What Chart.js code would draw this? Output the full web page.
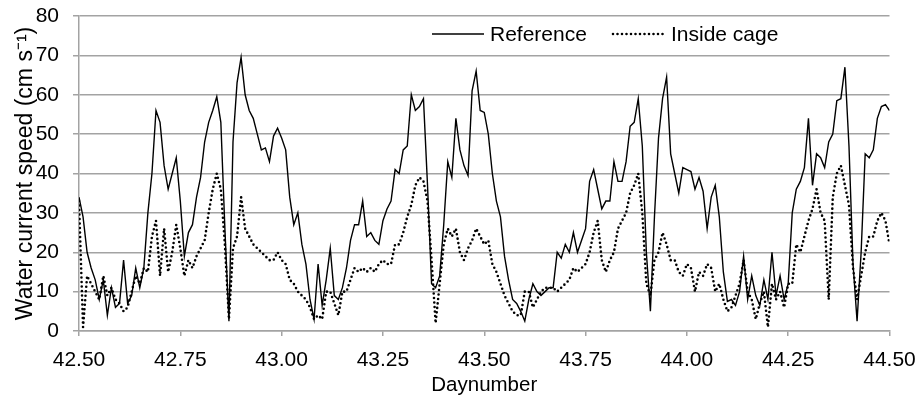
<!DOCTYPE html>
<html>
<head>
<meta charset="utf-8">
<script src="https://cdn.jsdelivr.net/npm/chart.js@4.4.1/dist/chart.umd.min.js"></script>
<style>
  html, body { margin: 0; padding: 0; background: #fff; }
</style>
</head>
<body>
<canvas id="chart" width="920" height="402"></canvas>
<script>
// water current speed (cm/s), one sample every 0.01 day
const firstDay = 42.5;
const dayStep = 0.01;

const refSpeed = [
  34, 29, 20, 16, 13, 8, 13, 4, 11, 6,
  7, 18, 7, 9, 16, 11, 16, 30, 40, 56,
  53, 42, 36, 40, 44, 33, 19, 25, 27, 34,
  39, 48, 53, 56, 59.5, 53, 26, 2.5, 48, 63,
  69.5, 60, 56, 54, 50, 46, 46.5, 43, 49.5, 51.5,
  49, 46, 34, 27, 30, 22, 17, 8, 3, 17,
  6.5, 13, 21, 9, 8, 11, 16, 23, 27, 27,
  33, 24, 25, 23, 22, 28, 31, 33, 41, 40,
  46, 47, 60, 56, 57, 59, 37, 12, 11, 14,
  27, 43, 39, 54, 46, 42, 39.5, 61, 66, 56,
  55.5, 50, 40, 33, 29, 19, 13, 8, 7, 5,
  2.5, 8, 12, 10, 9, 10, 11, 11, 20, 18.5,
  22, 20, 25, 20, 23, 26, 38, 41, 36, 31,
  33, 33, 43, 38, 38, 43, 52, 53, 59, 47,
  20, 5, 29, 49, 59, 64.5, 45, 40, 35, 41.5,
  41, 40.5, 36, 39, 35.5, 26, 34, 37, 29, 15,
  7.5, 8, 6.5, 10, 19, 8, 14, 9, 6.5, 13,
  8, 20, 9, 14, 8, 12, 30, 36, 38, 41.5,
  54, 37, 45, 44, 41.5, 48, 50, 58.5, 59, 67,
  47, 17, 2.5, 20, 45, 44, 46, 54, 57, 57.5,
  56
];

const cageSpeed = [
  33, 1, 14, 12, 10, 8, 14, 9, 11, 8,
  7, 5, 6, 10, 14, 12, 16, 15, 24, 28,
  14, 26, 15, 20, 27, 21, 14, 18, 16, 19,
  21, 23, 30, 36, 40, 36, 22, 3, 21, 24,
  34, 26, 24, 22, 21, 20, 19, 18, 18, 20,
  18, 17, 13, 12, 10, 9, 8, 6, 3, 4,
  3, 10, 10, 7, 4, 10, 10, 13, 16, 15,
  16, 15, 16, 15, 17, 18, 17, 17, 22, 22,
  25, 29, 32, 37, 39, 38, 33, 18, 2, 12,
  22, 26, 24, 26, 20, 18, 21, 23, 26, 24,
  22, 23, 17, 15, 12, 9, 7, 5, 4, 4,
  10, 10, 6, 8, 10, 11, 11, 11, 10, 11,
  12, 13, 16, 15, 16, 17, 20, 25, 28, 18,
  15, 18, 20, 26, 28, 30, 35, 37, 40, 30,
  12, 9, 18, 20, 25, 22, 18, 18, 15, 14,
  17, 16, 10, 15, 14, 17, 16, 10, 12, 8,
  5, 6, 9, 12, 18, 10, 8, 3, 7, 10,
  1, 12, 8, 10, 6, 12, 12, 22, 20, 24,
  28, 31, 36, 30, 28, 8, 34, 40, 42, 37,
  32, 16, 8, 14, 20, 24, 24, 28, 30, 28,
  22
];

const seriesNames = ['Reference', 'Inside cage'];

// sample times
const days = [];
for (let i = 0; i < refSpeed.length; i++) {
  days.push(+(firstDay + i * dayStep).toFixed(2));
}

function toPoints(vals) {
  return vals.map((v, i) => ({ x: days[i], y: v }));
}

// legend drawn inside the plot, top right, like the original
const insideLegend = {
  id: 'insideLegend',
  afterDatasetsDraw(chart, args, opts) {
    const ctx = chart.ctx;
    ctx.save();
    ctx.font = '21px "Liberation Sans", Arial, sans-serif';
    ctx.textBaseline = 'middle';
    ctx.fillStyle = '#000';
    chart.data.datasets.forEach((ds, i) => {
      const x = opts.xs[i];
      ctx.beginPath();
      ctx.lineWidth = ds.borderWidth;
      ctx.strokeStyle = ds.borderColor;
      ctx.setLineDash(ds.borderDash || []);
      ctx.lineCap = ds.borderCapStyle || 'butt';
      ctx.moveTo(x, opts.y);
      ctx.lineTo(x + opts.lineLen, opts.y);
      ctx.stroke();
      ctx.setLineDash([]);
      ctx.fillText(ds.label, x + opts.lineLen + opts.gap, opts.y + 1);
    });
    ctx.restore();
  }
};

Chart.defaults.font.family = '"Liberation Sans", Arial, sans-serif';
Chart.defaults.font.size = 21;
Chart.defaults.color = '#000';

const gridGray = '#a3a3a3';

new Chart(document.getElementById('chart'), {
  type: 'line',
  data: {
    datasets: [{
      label: seriesNames[0],
      data: toPoints(refSpeed),
      borderColor: '#000',
      borderWidth: 1.4,
      pointRadius: 0,
      tension: 0
    }, {
      label: seriesNames[1],
      data: toPoints(cageSpeed),
      borderColor: '#000',
      borderWidth: 2.6,
      borderDash: [0, 4.5],
      borderCapStyle: 'round',
      pointRadius: 0,
      tension: 0
    }]
  },
  options: {
    responsive: false,
    animation: false,
    layout: { padding: { top: 16, right: 30.5 } },
    plugins: {
      legend: { display: false },
      tooltip: { enabled: false },
      insideLegend: { xs: [432, 613], y: 34, lineLen: 52, gap: 6 }
    },
    scales: {
      x: {
        type: 'linear',
        min: 42.5,
        max: 44.5,
        ticks: {
          stepSize: 0.25,
          maxRotation: 0,
          padding: 12,
          callback: v => v.toFixed(2)
        },
        grid: { drawOnChartArea: false, tickLength: 5, color: gridGray, lineWidth: 1.5 },
        border: { color: gridGray, width: 1.5 },
        title: { display: true, text: 'Daynumber', font: { size: 20.5 }, padding: { top: 2 } },
        afterFit: s => { s.height = 71; s.paddingLeft = 0; s.paddingRight = 0; }
      },
      y: {
        min: 0,
        max: 80,
        ticks: { stepSize: 10, padding: 14 },
        grid: { color: gridGray, lineWidth: 1.5, tickLength: 6 },
        border: { color: gridGray, width: 1.5 },
        title: { display: true, text: 'Water current speed (cm s\u207B\u00B9)', font: { size: 23 }, padding: { top: 12, bottom: 0 } },
        afterFit: s => { s.width = 79; s.paddingTop = 0; s.paddingBottom = 0; }
      }
    }
  },
  plugins: [insideLegend]
});
</script>
</body>
</html>
